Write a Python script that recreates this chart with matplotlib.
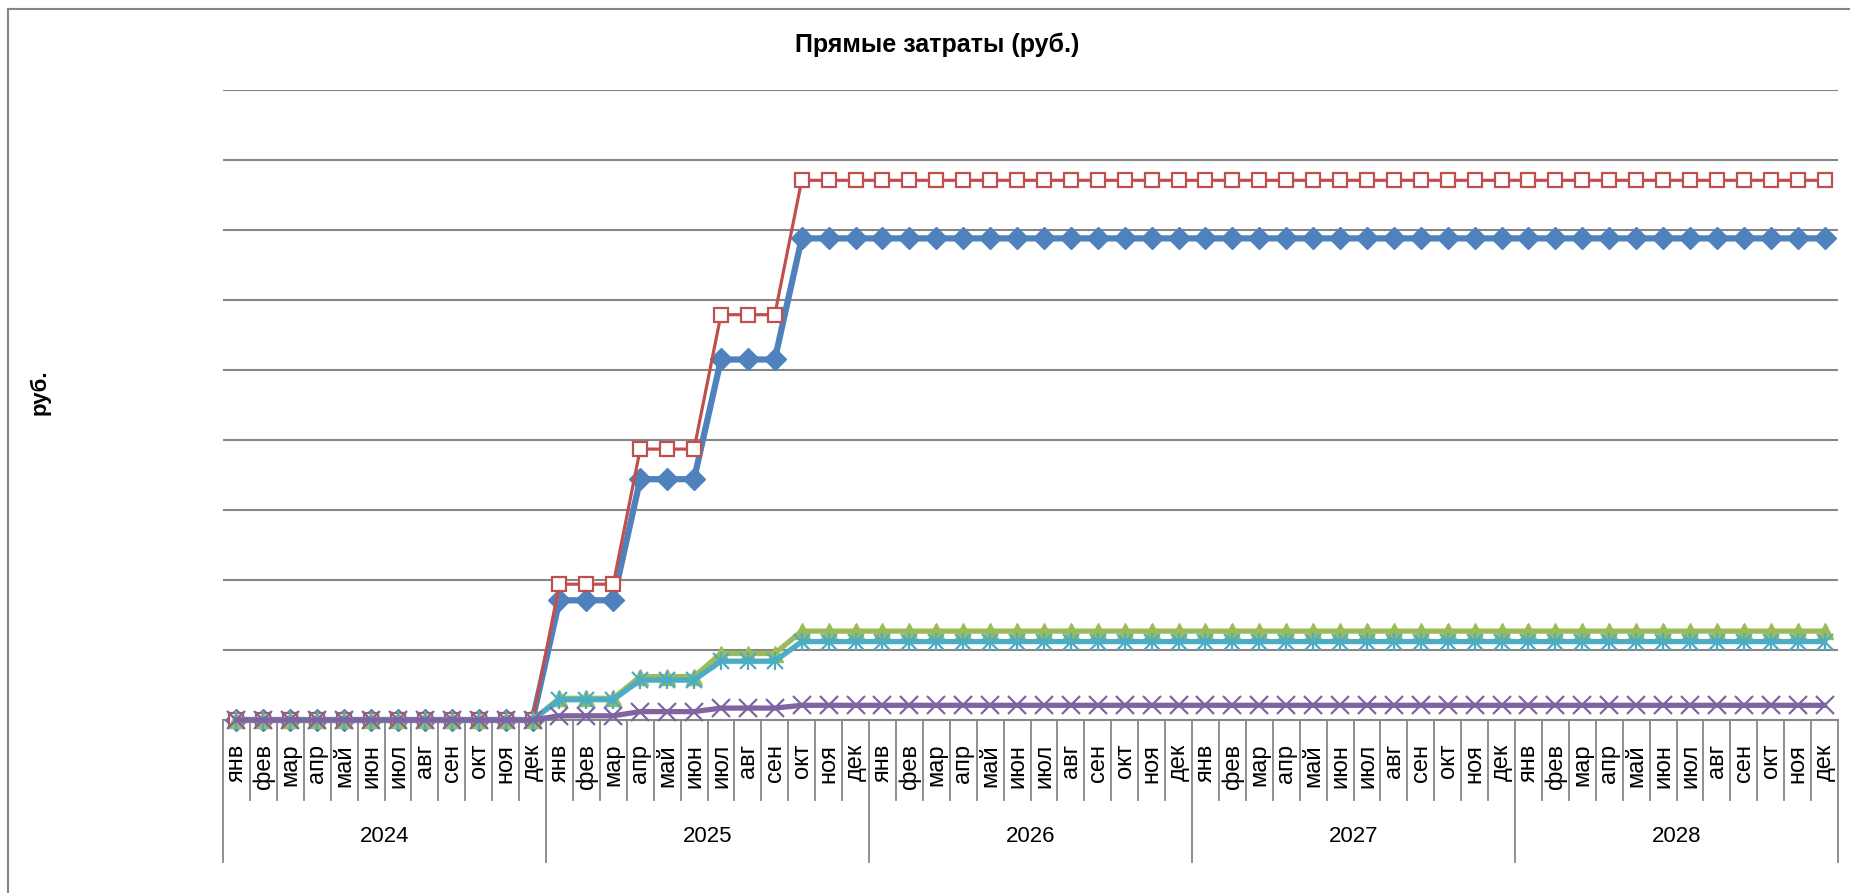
import matplotlib
matplotlib.use("Agg")
import matplotlib.pyplot as plt
from matplotlib.lines import Line2D
import numpy as np

plt.rcParams['font.family'] = ['Liberation Sans', 'DejaVu Sans']

title = "Прямые затраты (руб.)"
ylabel = "руб."
years = ["2024", "2025", "2026", "2027", "2028"]
months = ["янв", "фев", "мар", "апр", "май", "июн", "июл", "авг", "сен", "окт", "ноя", "дек"]

# values in units of the (unlabelled) gridline step
blue = [0]*12 + [1.71]*3 + [3.44]*3 + [5.15]*3 + [6.88]*39
red = [0]*12 + [1.94]*3 + [3.87]*3 + [5.79]*3 + [7.71]*39
green = [0]*12 + [0.31]*3 + [0.62]*3 + [0.95]*3 + [1.27]*39
cyan = [0]*12 + [0.29]*3 + [0.57]*3 + [0.84]*3 + [1.12]*39
purple = [0]*12 + [0.06]*3 + [0.12]*3 + [0.17]*3 + [0.21]*39

W, H = 1850, 893
fig = plt.figure(figsize=(W/100, H/100), dpi=100)
left_px, right_px, top_px, base_px = 223, 1838, 90, 720
ax = fig.add_axes([left_px/W, 1 - base_px/H, (right_px-left_px)/W, (base_px-top_px)/H])

n = len(years) * len(months)
x = np.arange(n)
grid_c = "#868686"

for g in range(1, 10):
    ax.axhline(g, color=grid_c, lw=1.5, zorder=1)
ax.axhline(0, color=grid_c, lw=1.5, zorder=1, clip_on=False)

ax.plot(x, blue, color="#4F81BD", lw=4.5, marker="D", ms=11.5, mfc="#4F81BD", mec="#4F81BD", zorder=3, clip_on=False)
ax.plot(x, red, color="#C0504D", lw=2.3, marker="s", ms=10.5, mfc="white", mec="#C0504D", mew=1.6, zorder=4, clip_on=False)
ax.plot(x, green, color="#9BBB59", lw=3.8, marker="^", ms=12, mfc="#9BBB59", mec="#9BBB59", zorder=5, clip_on=False)
ax.plot(x, cyan, color="#4BACC6", lw=3.8, marker="x", ms=11, mec="#4BACC6", mew=1.6, zorder=6, clip_on=False)
ax.plot(x, cyan, color="#4BACC6", lw=0, marker="|", ms=13, mec="#4BACC6", mew=1.6, zorder=6, clip_on=False)
ax.plot(x, purple, color="#8064A2", lw=3.8, marker="x", ms=12.5, mec="#8064A2", mew=1.6, zorder=7, clip_on=False)

ax.set_xlim(-0.5, n - 0.5)
ax.set_ylim(0, 9)
ax.set_xticks([])
ax.set_yticks([])
for s in ax.spines.values():
    s.set_visible(False)

trans = ax.get_xaxis_transform()
h = base_px - top_px
def yf(px):
    return (base_px - px) / h

for k in range(n + 1):
    bottom = 862 if k % 12 == 0 else 800
    ax.plot([k - 0.5, k - 0.5], [0, yf(bottom)], transform=trans, color=grid_c, lw=1.3, clip_on=False, zorder=1)

for i in range(n):
    ax.text(i, yf(744), months[i % 12], transform=trans, rotation=90, ha="center", va="top", fontsize=17, clip_on=False)

for j, yr in enumerate(years):
    ax.text(12*j + 5.5, yf(836), yr, transform=trans, ha="center", va="center", fontsize=16, clip_on=False)

fig.text(937/W, 1 - 45/H, title, ha="center", va="center", fontsize=18, fontweight="bold")
fig.text(40/W, 1 - 392/H, ylabel, ha="center", va="center", rotation=90, fontsize=16, fontweight="bold")

# chart area border (left and top edges)
fig.add_artist(Line2D([8/W, 8/W], [0, 1 - 9/H], transform=fig.transFigure, color=grid_c, lw=1.5))
fig.add_artist(Line2D([8/W, 1], [1 - 9/H, 1 - 9/H], transform=fig.transFigure, color=grid_c, lw=1.5))

fig.savefig("out.png", dpi=100, facecolor="white")
